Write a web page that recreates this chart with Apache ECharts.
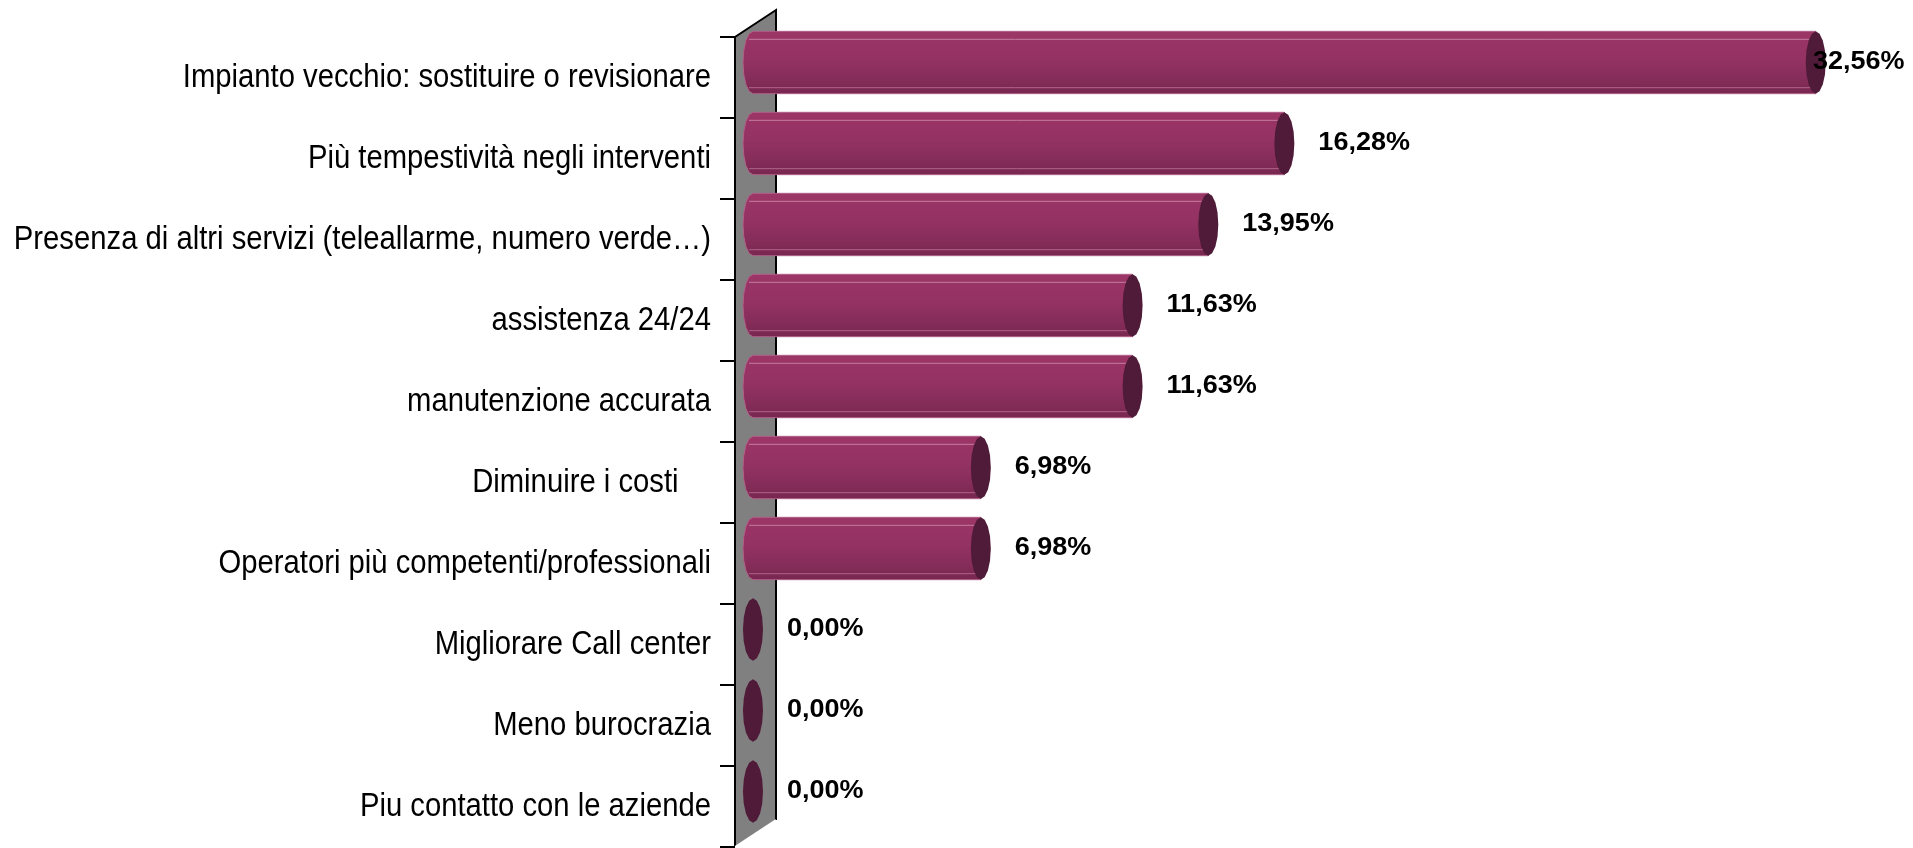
<!DOCTYPE html>
<html>
<head>
<meta charset="utf-8">
<script src="https://cdn.jsdelivr.net/npm/echarts@6/dist/echarts.min.js"></script>
<style>
    html, body { margin: 0; padding: 0; background: #fff; }
    #chart { width: 1913px; height: 848px; }
</style>
</head>
<body>
<div id="chart"></div>
<script>
    // dati
    const categories = [
        'Impianto vecchio: sostituire o revisionare',
        'Più tempestività negli interventi',
        'Presenza di altri servizi (teleallarme, numero verde…)',
        'assistenza 24/24',
        'manutenzione accurata',
        'Diminuire i costi    ',
        'Operatori più competenti/professionali',
        'Migliorare Call center',
        'Meno burocrazia',
        'Piu contatto con le aziende'
    ];
    const percentages = [32.56, 16.28, 13.95, 11.63, 11.63, 6.98, 6.98, 0, 0, 0];

    const GRID_LEFT = 735, GRID_TOP = 37, GRID_RIGHT = 3, GRID_BOTTOM = 1;
    const DEPTH_X = 41, DEPTH_Y = -27;   // profondità della parete grigia
    const BAR_DX = 18, BAR_DY = -15;     // barre a metà profondità

    let chart = echarts.init(document.getElementById('chart'));
    const H = chart.getHeight();

    function ellipsePts(cx, cy, rx, ry, a0, a1, n) {
        let pts = [];
        for (let k = 0; k <= n; k++) {
            let a = a0 + (a1 - a0) * k / n;
            pts.push([cx + rx * Math.cos(a), cy + ry * Math.sin(a)]);
        }
        return pts;
    }

    function renderBar(params, api) {
        let v = api.value(0), i = api.value(1);
        let p0 = api.coord([0, i]);
        let p1 = api.coord([v, i]);
        let band = api.size([0, 1])[1];
        let ry = band * 0.385, rx = 10;
        let cx0 = p0[0] + BAR_DX, cx1 = p1[0] + BAR_DX, cy = p0[1] + BAR_DY;
        let children = [];
        // etichetta della categoria (testo un po' stretto come nell'originale)
        children.push({
            type: 'text',
            x: p0[0] - 24,
            y: p0[1],
            scaleX: 0.86,
            style: {
                text: categories[i],
                font: '34px "Liberation Sans"',
                fill: '#000',
                align: 'right',
                verticalAlign: 'middle'
            }
        });
        if (v > 0) {
            let pts = [[cx1, cy - ry]]
                .concat(ellipsePts(cx0, cy, rx, ry, -Math.PI / 2, -Math.PI * 1.5, 8))
                .concat([[cx1, cy + ry]]);
            children.push({
                type: 'polygon',
                shape: { points: pts },
                style: {
                    fill: new echarts.graphic.LinearGradient(0, 0, 0, 1, [
                        { offset: 0, color: '#9c3667' },
                        { offset: 0.45, color: '#933263' },
                        { offset: 0.75, color: '#862d5a' },
                        { offset: 1, color: '#772750' }
                    ]),
                    stroke: '#b06088',
                    lineWidth: 1
                }
            });
            children.push({
                type: 'line',
                shape: { x1: cx0 - 4, y1: cy - ry + 8, x2: cx1, y2: cy - ry + 8 },
                style: { stroke: '#c47c9f', lineWidth: 1 }
            });
            children.push({
                type: 'line',
                shape: { x1: cx0 - 4, y1: cy + ry - 6, x2: cx1, y2: cy + ry - 6 },
                style: { stroke: '#b0648a', lineWidth: 1 }
            });
        }
        children.push({
            type: 'polygon',
            shape: { points: ellipsePts(cx1, cy, rx, ry, 0, Math.PI * 2, 16) },
            style: { fill: '#501a39' }
        });
        let txt = v.toFixed(2).replace('.', ',') + '%';
        children.push({
            type: 'text',
            x: Math.min(cx1 + 34, api.getWidth() - 100),
            y: cy,
            scaleX: 1.08,
            style: {
                text: txt,
                font: 'bold 25px "Liberation Sans"',
                fill: '#000',
                align: 'left',
                verticalAlign: 'middle'
            }
        });
        return { type: 'group', children: children };
    }

    let xL = GRID_LEFT, yT = GRID_TOP, yB = H - GRID_BOTTOM;

    chart.setOption({
        animation: false,
        grid: { left: GRID_LEFT, top: GRID_TOP, right: GRID_RIGHT, bottom: GRID_BOTTOM },
        xAxis: { type: 'value', min: 0, max: 36, show: false },
        yAxis: {
            type: 'category',
            data: categories,
            inverse: true,
            axisLine: { show: false },
            axisTick: { show: true, length: 15, lineStyle: { color: '#000', width: 2 } },
            axisLabel: { show: false },
            splitLine: { show: false }
        },
        graphic: [
            {
                type: 'polygon', z: -1,
                shape: { points: [[xL, yT], [xL + DEPTH_X, yT + DEPTH_Y], [xL + DEPTH_X, yB + DEPTH_Y], [xL, yB]] },
                style: { fill: '#808080' }
            },
            {
                type: 'polyline', z: -1,
                shape: { points: [[xL, yB], [xL, yT], [xL + DEPTH_X, yT + DEPTH_Y], [xL + DEPTH_X, yB + DEPTH_Y]] },
                style: { stroke: '#000', lineWidth: 2, fill: null }
            },
            {
                type: 'line', z: -1,
                shape: { x1: xL, y1: yB, x2: xL + DEPTH_X, y2: yB + DEPTH_Y },
                style: { stroke: '#fff', lineWidth: 2 }
            }
        ],
        series: [{
            type: 'custom',
            renderItem: renderBar,
            encode: { x: 0, y: 1 },
            data: percentages.map((v, i) => [v, i]),
            clip: false
        }]
    });
</script>
</body>
</html>
